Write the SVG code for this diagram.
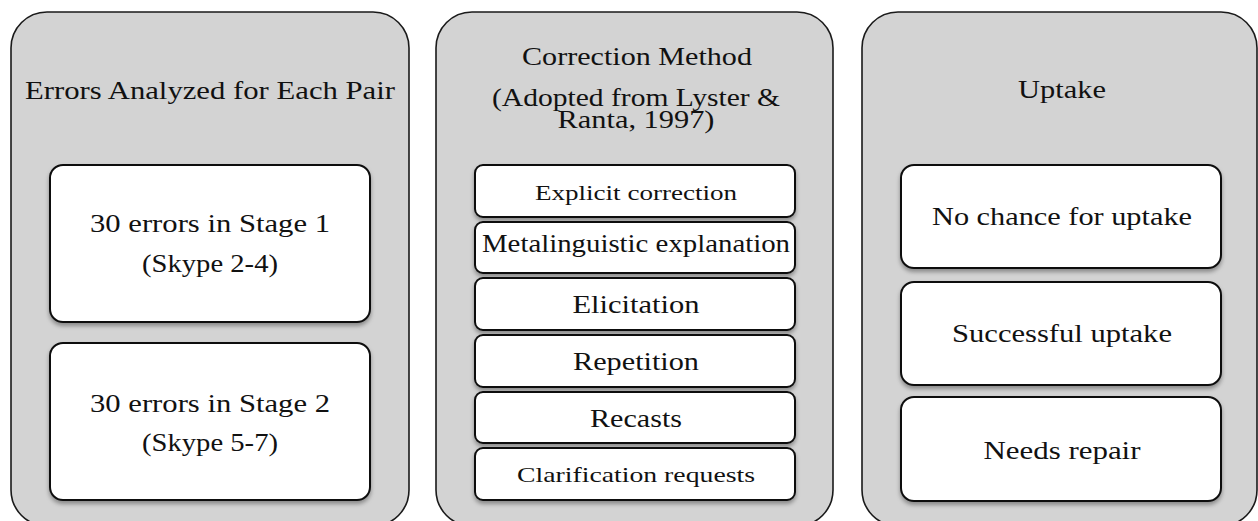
<svg xmlns="http://www.w3.org/2000/svg" width="1258" height="521" viewBox="0 0 1258 521">
<defs>
<filter id="sh" x="-10%" y="-10%" width="120%" height="130%">
<feDropShadow dx="0" dy="3" stdDeviation="2" flood-color="#000" flood-opacity="0.35"/>
</filter>
</defs>
<style>
.panel{fill:#d3d3d3;stroke:#1a1a1a;stroke-width:1.6}
.box{fill:#fff;stroke:#111;stroke-width:2;filter:url(#sh)}
text{font-family:"Liberation Serif","DejaVu Serif",serif;fill:#111;text-anchor:middle}
.big{font-size:26px}
.sm{font-size:22px}
</style>
<rect width="1258" height="521" fill="#fff"/>
<g id="panel-errors">
<rect class="panel" x="11" y="12" width="398" height="514" rx="36"/>
<text class="big" x="210" y="99" textLength="370" lengthAdjust="spacingAndGlyphs">Errors Analyzed for Each Pair</text>
</g>
<g id="node-stage1">
<rect class="box" x="50" y="165" width="320" height="157" rx="13"/>
<text class="big" x="210" y="232" textLength="240" lengthAdjust="spacingAndGlyphs">30 errors in Stage 1</text>
<text class="big" x="210" y="272" textLength="136" lengthAdjust="spacingAndGlyphs">(Skype 2-4)</text>
</g>
<g id="node-stage2">
<rect class="box" x="50" y="343" width="320" height="157" rx="13"/>
<text class="big" x="210" y="412" textLength="240" lengthAdjust="spacingAndGlyphs">30 errors in Stage 2</text>
<text class="big" x="210" y="451" textLength="136" lengthAdjust="spacingAndGlyphs">(Skype 5-7)</text>
</g>
<g id="panel-method">
<rect class="panel" x="436" y="12" width="397" height="514" rx="36"/>
<text class="big" x="637" y="65" textLength="230" lengthAdjust="spacingAndGlyphs">Correction Method</text>
<text class="big" x="636" y="106" textLength="288" lengthAdjust="spacingAndGlyphs">(Adopted from Lyster &amp;</text>
<text class="big" x="636" y="128" textLength="157" lengthAdjust="spacingAndGlyphs">Ranta, 1997)</text>
</g>
<g id="node-explicit">
<rect class="box" x="475" y="165" width="320" height="52" rx="8"/>
<text class="sm" x="636" y="200" textLength="202" lengthAdjust="spacingAndGlyphs">Explicit correction</text>
</g>
<g id="node-metalinguistic">
<rect class="box" x="475" y="222" width="320" height="51" rx="8"/>
<text class="big" x="636" y="252" textLength="308" lengthAdjust="spacingAndGlyphs">Metalinguistic explanation</text>
</g>
<g id="node-elicitation">
<rect class="box" x="475" y="278" width="320" height="52" rx="8"/>
<text class="big" x="636" y="313" textLength="127" lengthAdjust="spacingAndGlyphs">Elicitation</text>
</g>
<g id="node-repetition">
<rect class="box" x="475" y="335" width="320" height="52" rx="8"/>
<text class="big" x="636" y="370" textLength="126" lengthAdjust="spacingAndGlyphs">Repetition</text>
</g>
<g id="node-recasts">
<rect class="box" x="475" y="392" width="320" height="51" rx="8"/>
<text class="big" x="636" y="427" textLength="92" lengthAdjust="spacingAndGlyphs">Recasts</text>
</g>
<g id="node-clarification">
<rect class="box" x="475" y="448" width="320" height="52" rx="8"/>
<text class="sm" x="636" y="482" textLength="238" lengthAdjust="spacingAndGlyphs">Clarification requests</text>
</g>
<g id="panel-uptake">
<rect class="panel" x="862" y="12" width="395" height="514" rx="36"/>
<text class="big" x="1062" y="98" textLength="88" lengthAdjust="spacingAndGlyphs">Uptake</text>
</g>
<g id="node-nochance">
<rect class="box" x="901" y="165" width="320" height="103" rx="13"/>
<text class="big" x="1062" y="225" textLength="260" lengthAdjust="spacingAndGlyphs">No chance for uptake</text>
</g>
<g id="node-successful">
<rect class="box" x="901" y="282" width="320" height="103" rx="13"/>
<text class="big" x="1062" y="342" textLength="220" lengthAdjust="spacingAndGlyphs">Successful uptake</text>
</g>
<g id="node-repair">
<rect class="box" x="901" y="397" width="320" height="104" rx="13"/>
<text class="big" x="1062" y="459" textLength="157" lengthAdjust="spacingAndGlyphs">Needs repair</text>
</g>
<g id="connectors"></g>
</svg>
